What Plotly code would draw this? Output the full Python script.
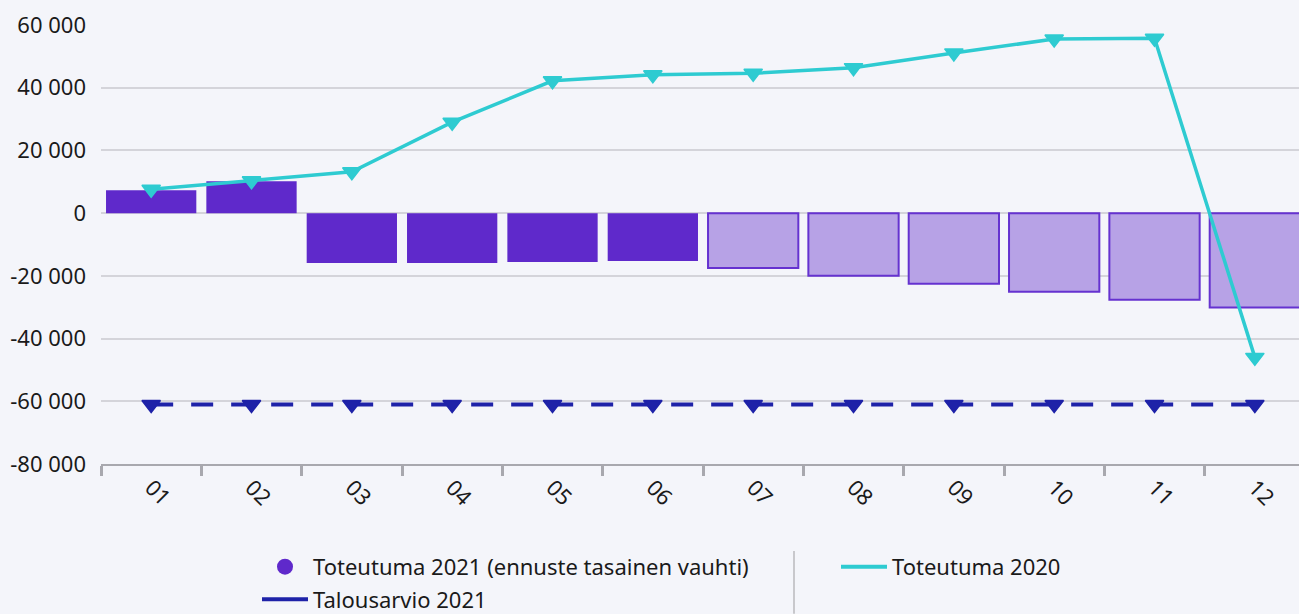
import plotly.graph_objects as go

months = ["01", "02", "03", "04", "05", "06", "07", "08", "09", "10", "11", "12"]
actual_months = months[:6]
forecast_months = months[6:]
actual_2021 = [7300, 10200, -15900, -15900, -15600, -15300]
forecast_2021 = [-17500, -20000, -22500, -25100, -27600, -30100]
actual_2020 = [7600, 10300, 13200, 29000, 42200, 44100, 44600, 46400, 51100, 55500, 55800, -46000]
budget_2021 = [-61000] * 12
y_ticks = [-80000, -60000, -40000, -20000, 0, 20000, 40000, 60000]
y_tick_labels = ["-80 000", "-60 000", "-40 000", "-20 000", "0", "20 000", "40 000", "60 000"]

name_2021 = "Toteutuma 2021 (ennuste tasainen vauhti)"
name_2020 = "Toteutuma 2020"
name_budget = "Talousarvio 2021"

PURPLE = "#5F29CB"
PURPLE_LIGHT = "#B7A2E6"
CYAN = "#2ECBD1"
NAVY = "#1E22A8"
BG = "#F4F5FA"
FONT = "Noto Sans"
FS = 22

# the page body margin is removed (see post_script), so the figure fills the window
W, H = 1299, 614
ML, MT, MB = 101, 24.5, 150
plot_w = W - ML
plot_h = H - MT - MB


def px_x(px):
    return (px - ML) / plot_w


def px_y(py):
    return (H - MB - py) / plot_h


fig = go.Figure()

fig.add_trace(go.Bar(x=actual_months, y=actual_2021, marker=dict(color=PURPLE, line=dict(width=0)),
                     showlegend=False, name=name_2021))
fig.add_trace(go.Bar(x=forecast_months, y=forecast_2021,
                     marker=dict(color=PURPLE_LIGHT, line=dict(color="#6532D0", width=2)),
                     showlegend=False, name=name_2021))
fig.add_trace(go.Scatter(x=months, y=budget_2021, mode="lines+markers",
                         line=dict(color=NAVY, width=4, dash="22px,18px"),
                         marker=dict(symbol="triangle-down", size=16, color=NAVY,
                                     line=dict(color=NAVY, width=1.5)),
                         showlegend=False, name=name_budget))
fig.add_trace(go.Scatter(x=months, y=actual_2020, mode="lines+markers",
                         line=dict(color=CYAN, width=3.5),
                         marker=dict(symbol="triangle-down", size=16, color=CYAN,
                                     line=dict(color=CYAN, width=1.5)),
                         showlegend=False, name=name_2020))

# legend entries
fig.add_trace(go.Scatter(x=[None], y=[None], mode="markers", legend="legend", legendgroup="a",
                         marker=dict(symbol="circle", size=18, color=PURPLE), name=name_2021))
fig.add_trace(go.Scatter(x=[None], y=[None], mode="lines", legend="legend", legendgroup="b",
                         line=dict(color=NAVY, width=4), name=name_budget))
fig.add_trace(go.Scatter(x=[None], y=[None], mode="lines", legend="legend2",
                         line=dict(color=CYAN, width=4), name=name_2020))

fig.add_shape(type="line", xref="paper", yref="paper",
              x0=px_x(794), x1=px_x(794), y0=px_y(551), y1=px_y(614),
              line=dict(color="#C8C8CC", width=2))

legend_common = dict(orientation="v", xanchor="left", yanchor="top",
                     font=dict(family=FONT, size=FS, color="#1A1A1A"),
                     bgcolor="rgba(0,0,0,0)", itemwidth=46, traceorder="grouped",
                     tracegroupgap=1)

fig.update_layout(
    width=W, height=H,
    margin=dict(l=ML, r=0, t=MT, b=MB, autoexpand=False),
    paper_bgcolor=BG, plot_bgcolor=BG,
    barmode="overlay", bargap=0.1,
    font=dict(family=FONT, size=FS, color="#1A1A1A"),
    legend=dict(x=px_x(257), y=px_y(546), **legend_common),
    legend2=dict(x=px_x(836), y=px_y(546), **legend_common),
    xaxis=dict(type="category", categoryorder="array", categoryarray=months,
               range=[-0.5, 11.44], tickangle=45, tickson="boundaries",
               ticks="outside", ticklen=10, tickwidth=3, tickcolor="#A8A8AE",
               showline=True, linecolor="#A8A8AE", linewidth=2,
               showgrid=False, tickfont=dict(size=FS, family=FONT)),
    yaxis=dict(range=[-80000, 60000], tickvals=y_ticks, ticktext=y_tick_labels,
               showgrid=True, gridcolor="#D4D4DA", gridwidth=1.5,
               zeroline=False, showline=False, ticks="", ticklabelstandoff=14,
               tickfont=dict(size=FS, family=FONT)),
)

fig.write_html("out.html", config={"displayModeBar": False},
               post_script="document.body.style.margin='0';document.body.style.overflow='hidden';")
